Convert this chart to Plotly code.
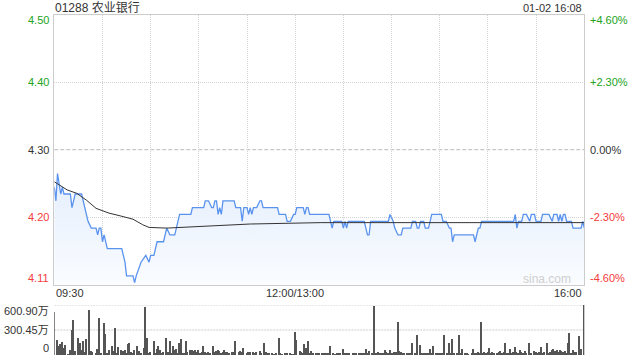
import plotly.graph_objects as go

# ---------------- data ----------------
TITLE = "01288 农业银行"
STAMP = "01-02 16:08"
PREV_CLOSE = 4.305          # centre of the price axis (0.00%)
PCT_RANGE = 4.6             # axis spans +/- 4.6 %

# minutes since 09:30, lunch removed (150 = 12:00/13:00, 330 = 16:00)
price_minute = [
    0, 1, 2, 4, 5, 6, 10, 11, 12, 13,
    17, 18, 20, 21, 23, 26, 27, 28, 29, 30,
    31, 33, 42, 44, 45, 49, 50, 51, 54, 57,
    59, 60, 62, 64, 68, 70, 72, 75, 76, 78,
    85, 86, 93, 94, 96, 98, 99, 100, 101, 102,
    103, 104, 105, 112, 113, 116, 117, 118, 120, 121,
    122, 123, 124, 126, 128, 129, 130, 139, 140, 144,
    145, 147, 149, 150, 151, 155, 156, 157, 158, 159,
    171, 172, 173, 174, 179, 180, 181, 182, 183, 193,
    194, 195, 196, 197, 208, 209, 211, 212, 214, 216,
    217, 222, 223, 225, 226, 227, 228, 230, 231, 233,
    234, 235, 241, 242, 244, 246, 247, 248, 249, 261,
    262, 264, 265, 266, 286, 287, 288, 289, 291, 292,
    294, 296, 297, 299, 300, 303, 304, 308, 310, 311,
    313, 314, 315, 316, 317, 318, 319, 322, 323, 328,
    329, 330,
]
price_value = [
    4.25, 4.23, 4.27, 4.24, 4.25, 4.24, 4.24, 4.22, 4.23, 4.24,
    4.24, 4.23, 4.21, 4.20, 4.19, 4.19, 4.18, 4.19, 4.19, 4.17,
    4.18, 4.16, 4.16, 4.14, 4.12, 4.12, 4.11, 4.12, 4.14, 4.15,
    4.14, 4.15, 4.15, 4.17, 4.17, 4.19, 4.18, 4.18, 4.19, 4.21,
    4.21, 4.22, 4.22, 4.23, 4.23, 4.22, 4.22, 4.23, 4.23, 4.21,
    4.22, 4.21, 4.23, 4.23, 4.22, 4.22, 4.20, 4.22, 4.22, 4.21,
    4.22, 4.21, 4.22, 4.22, 4.23, 4.23, 4.22, 4.22, 4.21, 4.21,
    4.20, 4.20, 4.21, 4.21, 4.22, 4.22, 4.21, 4.22, 4.22, 4.21,
    4.21, 4.20, 4.19, 4.20, 4.20, 4.19, 4.20, 4.19, 4.20, 4.20,
    4.19, 4.18, 4.18, 4.20, 4.20, 4.21, 4.20, 4.19, 4.18, 4.18,
    4.19, 4.19, 4.20, 4.20, 4.19, 4.19, 4.20, 4.20, 4.19, 4.19,
    4.20, 4.21, 4.21, 4.20, 4.20, 4.19, 4.19, 4.17, 4.18, 4.18,
    4.17, 4.19, 4.19, 4.20, 4.20, 4.21, 4.19, 4.20, 4.20, 4.21,
    4.21, 4.20, 4.21, 4.21, 4.20, 4.20, 4.21, 4.21, 4.20, 4.21,
    4.21, 4.20, 4.21, 4.20, 4.21, 4.21, 4.20, 4.20, 4.19, 4.19,
    4.20, 4.19,
]

avg_minute = [0, 8, 14, 20, 26, 34, 41, 49, 55, 59, 70, 91, 122, 166, 250, 330]
avg_value = [4.258, 4.246, 4.241, 4.231, 4.219, 4.212, 4.208, 4.203,
             4.195, 4.191, 4.190, 4.192, 4.196, 4.198, 4.198, 4.198]

# volume in 万 shares
vol_minute = [
    0, 2, 3, 4, 5, 6, 7, 9, 10, 11,
    12, 13, 15, 16, 17, 18, 19, 20, 22, 23,
    24, 26, 27, 28, 29, 31, 32, 33, 34, 36,
    37, 38, 39, 40, 42, 43, 44, 45, 46, 47,
    48, 49, 50, 52, 53, 54, 56, 57, 58, 59,
    60, 62, 63, 64, 65, 66, 67, 68, 70, 71,
    72, 73, 74, 75, 76, 77, 78, 79, 80, 81,
    82, 83, 85, 86, 87, 88, 89, 90, 91, 92,
    93, 94, 95, 96, 97, 99, 100, 101, 102, 103,
    104, 105, 106, 107, 108, 109, 111, 112, 113, 115,
    116, 117, 118, 120, 121, 122, 124, 125, 126, 128,
    129, 131, 132, 133, 134, 136, 137, 138, 140, 141,
    142, 144, 145, 147, 148, 149, 150, 151, 153, 154,
    155, 156, 157, 158, 159, 160, 161, 163, 164, 165,
    167, 168, 169, 170, 171, 172, 174, 175, 176, 177,
    178, 180, 181, 182, 183, 184, 186, 187, 188, 190,
    191, 192, 193, 194, 195, 196, 198, 199, 200, 201,
    202, 203, 204, 205, 206, 207, 208, 209, 210, 211,
    212, 213, 214, 215, 216, 217, 218, 220, 221, 222,
    223, 225, 226, 228, 229, 230, 231, 232, 233, 234,
    235, 236, 238, 239, 240, 241, 242, 243, 245, 246,
    247, 248, 249, 251, 252, 253, 254, 256, 257, 258,
    260, 261, 262, 263, 264, 265, 266, 267, 268, 269,
    270, 271, 272, 273, 274, 276, 277, 278, 279, 280,
    281, 282, 283, 284, 285, 286, 287, 288, 289, 290,
    291, 292, 293, 294, 296, 297, 299, 300, 301, 302,
    303, 304, 305, 307, 308, 309, 310, 311, 312, 313,
    314, 315, 316, 317, 318, 319, 320, 321, 322, 323,
    324, 325, 327, 328, 330,
]
vol_value = [
    521, 180, 108, 132, 160, 80, 120, 12, 60, 300,
    421, 52, 200, 148, 60, 172, 40, 188, 541, 52,
    40, 20, 68, 441, 28, 389, 252, 20, 60, 108,
    52, 320, 28, 92, 60, 52, 60, 20, 132, 148,
    40, 28, 60, 108, 52, 20, 80, 581, 200, 28,
    40, 172, 20, 68, 108, 60, 20, 40, 200, 40,
    172, 28, 108, 60, 68, 20, 148, 188, 28, 20,
    172, 40, 60, 60, 52, 60, 40, 60, 28, 40,
    108, 40, 28, 40, 20, 108, 40, 52, 60, 52,
    28, 40, 60, 40, 40, 28, 40, 40, 172, 40,
    52, 40, 88, 28, 40, 40, 40, 28, 40, 52,
    28, 140, 40, 20, 20, 28, 12, 20, 208, 20,
    12, 20, 20, 20, 12, 12, 280, 180, 52, 40,
    20, 132, 80, 168, 20, 52, 20, 28, 20, 28,
    20, 28, 28, 20, 20, 108, 20, 12, 28, 20,
    20, 68, 28, 28, 28, 20, 28, 20, 28, 20,
    28, 20, 28, 68, 28, 52, 28, 589, 28, 20,
    40, 28, 20, 28, 60, 40, 28, 60, 28, 28,
    40, 40, 400, 52, 40, 28, 28, 20, 20, 28,
    148, 28, 240, 120, 28, 28, 28, 20, 28, 68,
    28, 108, 20, 20, 28, 28, 20, 240, 28, 148,
    20, 188, 20, 28, 240, 28, 68, 28, 20, 12,
    20, 68, 20, 28, 40, 20, 400, 28, 40, 28,
    40, 80, 28, 40, 28, 28, 40, 52, 28, 40,
    148, 28, 20, 68, 28, 40, 92, 40, 28, 60,
    40, 28, 52, 28, 148, 28, 52, 40, 28, 40,
    92, 28, 40, 148, 20, 40, 60, 68, 52, 60,
    40, 60, 52, 40, 52, 28, 148, 268, 20, 60,
    40, 40, 228, 68, 600.9,
]

price_labels = ["4.50", "4.40", "4.30", "4.20", "4.11"]
pct_levels = [4.6, 2.3, 0.0, -2.3, -4.6]
pct_labels = ["+4.60%", "+2.30%", "0.00%", "-2.30%", "-4.60%"]
vol_labels = ["600.90万", "300.45万", "0"]
vol_levels = [600.90, 300.45, 0.0]
x_tick_pos = [0, 150, 330]
x_tick_labels = ["09:30", "12:00/13:00", "16:00"]
SESSION_LEN = 330
GRID_STEP = 30

# ---------------- styling ----------------
FONT = "Liberation Sans, Arial, Noto Sans CJK SC, sans-serif"
GREEN = "#21a321"
RED = "#f23b3b"
DARK = "#333333"
GRID = "#d4d4d4"
BORDER = "#cccccc"
BLUE = "#5a93ee"

W, H = 640, 360
X0, X1 = 54.3 / W, 584.3 / W
Y_MAIN = [1 - 284.7 / H, 1 - 14.7 / H]
Y_VOL = [1 - 355 / H, 1 - 305 / H]

y_lo = PREV_CLOSE * (1 - PCT_RANGE / 100)
y_hi = PREV_CLOSE * (1 + PCT_RANGE / 100)

fig = go.Figure()

fig.add_trace(go.Scatter(
    x=price_minute, y=price_value, mode="lines",
    line=dict(color=BLUE, width=1.3),
    fill="tozeroy",
    fillgradient=dict(type="vertical", start=y_lo, stop=max(price_value),
                      colorscale=[[0, "rgba(250,252,255,1)"],
                                  [1, "rgba(228,238,252,1)"]]),
    xaxis="x", yaxis="y", hoverinfo="skip",
))
fig.add_trace(go.Scatter(
    x=avg_minute, y=avg_value, mode="lines",
    line=dict(color=DARK, width=1), xaxis="x", yaxis="y", hoverinfo="skip",
))
fig.add_trace(go.Bar(
    x=vol_minute, y=vol_value, width=0.7,
    marker=dict(color="#555555", line=dict(width=0)),
    xaxis="x2", yaxis="y2", hoverinfo="skip",
))

grid_levels = [PREV_CLOSE * (1 + p / 100) for p in pct_levels if abs(p) < PCT_RANGE and p != 0]

fig.update_layout(
    width=W, height=H, margin=dict(l=0, r=0, t=0, b=0),
    paper_bgcolor="white", plot_bgcolor="white", showlegend=False,
    font=dict(family=FONT, size=11, color=DARK), bargap=0,
    xaxis=dict(domain=[X0, X1], range=[0, SESSION_LEN], anchor="y",
               tick0=0, dtick=GRID_STEP, showgrid=True, gridcolor=GRID,
               griddash="1px,1px", gridwidth=1, showticklabels=False, ticks="",
               showline=True, mirror=True, linecolor=BORDER, linewidth=1,
               zeroline=False, fixedrange=True),
    yaxis=dict(domain=Y_MAIN, range=[y_lo, y_hi], anchor="x",
               tickvals=grid_levels, showgrid=True, gridcolor=GRID,
               griddash="1px,1px", gridwidth=1, showticklabels=False, ticks="",
               showline=True, mirror=True, linecolor=BORDER, linewidth=1,
               zeroline=False, fixedrange=True),
    xaxis2=dict(domain=[X0, X1], range=[0, SESSION_LEN], anchor="y2",
                showgrid=False, showticklabels=False, ticks="", showline=False,
                zeroline=False, fixedrange=True),
    yaxis2=dict(domain=Y_VOL, range=[0, max(vol_value)], anchor="x2",
                showgrid=False, showticklabels=False, ticks="", showline=False,
                zeroline=False, fixedrange=True),
)

shapes = [dict(type="line", xref="x domain", yref="y", x0=0, x1=1,
               y0=PREV_CLOSE, y1=PREV_CLOSE,
               line=dict(color="#bbbbbb", width=1, dash="4px,2px"), layer="below")]
for v in vol_levels[:2]:
    shapes.append(dict(type="line", xref="x2 domain", yref="y2", x0=0, x1=1,
                       y0=v, y1=v, line=dict(color=BORDER, width=1, dash="2px,1px"),
                       layer="below"))
fig.update_layout(shapes=shapes)

ann = []
n = len(price_labels)
for i, (pl, pc, pt) in enumerate(zip(price_labels, pct_levels, pct_labels)):
    col = GREEN if pc > 0 else (RED if pc < 0 else DARK)
    yv = PREV_CLOSE * (1 + pc / 100)
    ys = -5.5 if i == 0 else (6.5 if i == n - 1 else 0)
    ann.append(dict(x=X0, xref="paper", y=yv, yref="y", text=pl, showarrow=False,
                    xanchor="right", yanchor="middle", xshift=-3, yshift=ys,
                    font=dict(color=col, size=11)))
    ann.append(dict(x=X1, xref="paper", y=yv, yref="y", text=pt, showarrow=False,
                    xanchor="left", yanchor="middle", xshift=4, yshift=ys,
                    font=dict(color=col, size=11)))
for i, (vl, vv) in enumerate(zip(vol_labels, vol_levels)):
    ys = -6 if i == 0 else (7 if i == len(vol_labels) - 1 else 0)
    ann.append(dict(x=X0, xref="paper", y=vv, yref="y2", text=vl, showarrow=False,
                    xanchor="right", yanchor="middle", xshift=-3, yshift=ys,
                    font=dict(color=DARK, size=11)))
for pos, lab in zip(x_tick_pos, x_tick_labels):
    anchor = "left" if pos == 0 else ("right" if pos == SESSION_LEN else "center")
    ann.append(dict(x=pos, xref="x", y=1 - 292.7 / H, yref="paper", text=lab,
                    showarrow=False, xanchor=anchor, yanchor="middle",
                    font=dict(color=DARK, size=11)))
ann.append(dict(x=X0, xref="paper", y=1 - 7.5 / H, yref="paper", text=TITLE,
                showarrow=False, xanchor="left", yanchor="middle", xshift=-1,
                font=dict(color=DARK, size=12)))
ann.append(dict(x=X1, xref="paper", y=1 - 7.5 / H, yref="paper", text=STAMP,
                showarrow=False, xanchor="right", yanchor="middle",
                font=dict(color=DARK, size=11)))
ann.append(dict(x=573 / W, xref="paper", y=1 - 279 / H, yref="paper", text="sina.com",
                showarrow=False, xanchor="right", yanchor="middle",
                font=dict(color="#cfcfcf", size=12)))
fig.update_layout(annotations=ann)

fig.write_html("out.html")
